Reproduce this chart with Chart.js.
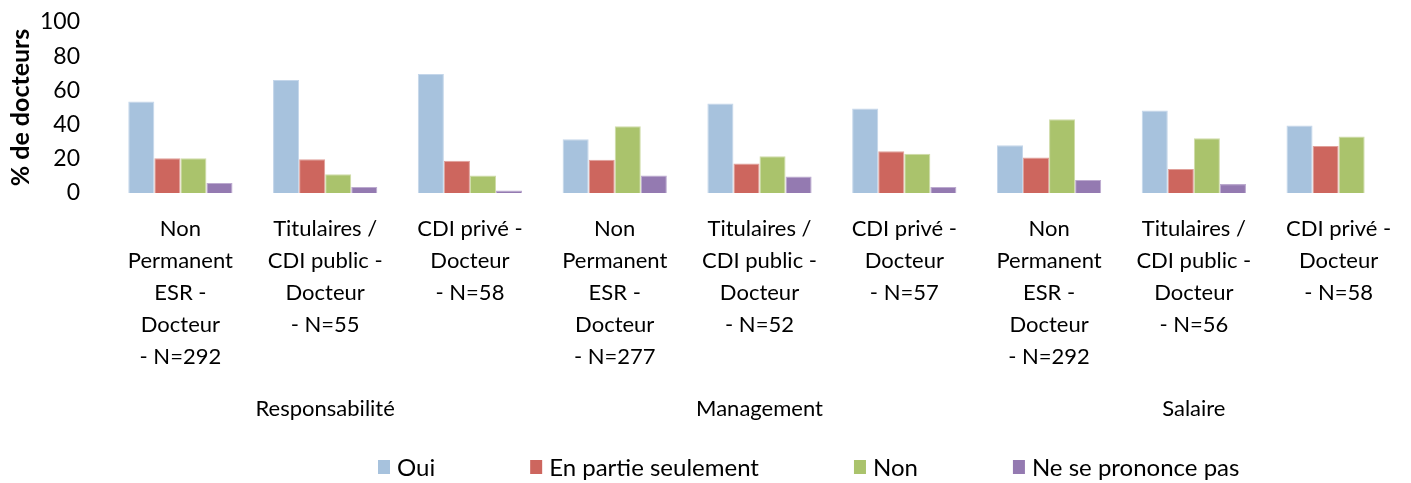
<!DOCTYPE html>
<html lang="fr">
<head>
    <meta charset="UTF-8">
    <title>% de docteurs</title>
    <script src="https://cdn.jsdelivr.net/npm/chart.js"></script>
    <style>
        html, body { margin: 0; padding: 0; background: #fff; }
        #wrap { width: 1411px; height: 483px; }
    </style>
</head>
<body>
    <div id="wrap"><canvas id="chart"></canvas></div>
    <script>
        const categories = [
            ["Non", "Permanent", "ESR -", "Docteur", "- N=292"],
            ["Titulaires /", "CDI public -", "Docteur", "- N=55"],
            ["CDI privé -", "Docteur", "- N=58"],
            ["Non", "Permanent", "ESR -", "Docteur", "- N=277"],
            ["Titulaires /", "CDI public -", "Docteur", "- N=52"],
            ["CDI privé -", "Docteur", "- N=57"],
            ["Non", "Permanent", "ESR -", "Docteur", "- N=292"],
            ["Titulaires /", "CDI public -", "Docteur", "- N=56"],
            ["CDI privé -", "Docteur", "- N=58"]
        ];
        const groups = ["", "Responsabilité", "", "", "Management", "", "", "Salaire", ""];

        const oui = [53.5, 66.1, 69.6, 31.4, 52.3, 49.4, 27.9, 48.3, 39.5];
        const enPartie = [20.3, 19.8, 18.8, 19.4, 17.2, 24.4, 20.7, 14.1, 27.5];
        const non = [20.3, 10.9, 10.3, 39.1, 21.5, 22.9, 43.2, 32.0, 33.1];
        const nsp = [5.8, 3.5, 1.5, 10.3, 9.7, 3.5, 7.6, 5.2, 0];

        const yTicks = [0, 20, 40, 60, 80, 100];

        const font = "Lato, 'Liberation Sans', sans-serif";

        function ds(label, data, color, edge) {
            return {
                label: label,
                data: data,
                backgroundColor: color,
                borderColor: edge,
                borderWidth: { top: 1, left: 1, right: 1, bottom: 0 },
                barPercentage: 1,
                categoryPercentage: 0.72
            };
        }

        // legend drawn by hand: Chart.js legend padding also adds vertical space
        const bottomLegend = {
            id: 'bottomLegend',
            afterDraw(chart) {
                const ctx = chart.ctx;
                const y = 467;
                let x = 378;
                ctx.save();
                ctx.font = "24px " + font;
                ctx.textBaseline = 'middle';
                chart.data.datasets.forEach(d => {
                    ctx.fillStyle = d.backgroundColor;
                    ctx.fillRect(x, y - 7, 12, 14);
                    ctx.fillStyle = '#000';
                    ctx.fillText(d.label, x + 19, y + 1);
                    x += 19 + ctx.measureText(d.label).width + 95;
                });
                ctx.restore();
            }
        };

        new Chart(document.getElementById('chart'), {
            type: 'bar',
            data: {
                labels: categories,
                datasets: [
                    ds('Oui', oui, '#a7c2dd', '#c4d6ea'),
                    ds('En partie seulement', enPartie, '#cd665e', '#e0a09a'),
                    ds('Non', non, '#aac36c', '#cfdca8'),
                    ds('Ne se prononce pas', nsp, '#947ab1', '#bcaacf')
                ]
            },
            plugins: [bottomLegend],
            options: {
                responsive: true,
                maintainAspectRatio: false,
                animation: false,
                layout: { padding: { top: 0, right: 0, left: 0, bottom: 62 } },
                scales: {
                    x: {
                        afterFit: axis => { axis.height = 180; },
                        grid: { display: false },
                        border: { display: false },
                        ticks: {
                            color: '#000',
                            font: { family: font, size: 22, lineHeight: 32 / 22 },
                            padding: 12,
                            maxRotation: 0,
                            autoSkip: false
                        }
                    },
                    groups: {
                        type: 'category',
                        labels: groups,
                        position: 'bottom',
                        afterFit: axis => { axis.height = 48; },
                        grid: { display: false },
                        border: { display: false },
                        ticks: {
                            color: '#000',
                            font: { family: font, size: 22 },
                            padding: 15,
                            maxRotation: 0,
                            autoSkip: false
                        }
                    },
                    y: {
                        min: 0,
                        max: 100,
                        afterBuildTicks: axis => { axis.ticks = yTicks.map(v => ({ value: v })); },
                        afterFit: axis => {
                            axis.width = 108;
                            axis.paddingTop = 22;
                            axis.paddingBottom = 0;
                        },
                        grid: { display: false },
                        border: { display: false },
                        ticks: {
                            color: '#000',
                            font: { family: font, size: 23 },
                            padding: 20,
                            autoSkip: false
                        },
                        title: {
                            display: true,
                            text: '% de docteurs',
                            color: '#000',
                            font: { family: font, size: 25, weight: 'bold' },
                            padding: { top: 6, bottom: 0 }
                        }
                    }
                },
                plugins: {
                    legend: { display: false },
                    tooltip: { enabled: false }
                }
            }
        });
    </script>
</body>
</html>
